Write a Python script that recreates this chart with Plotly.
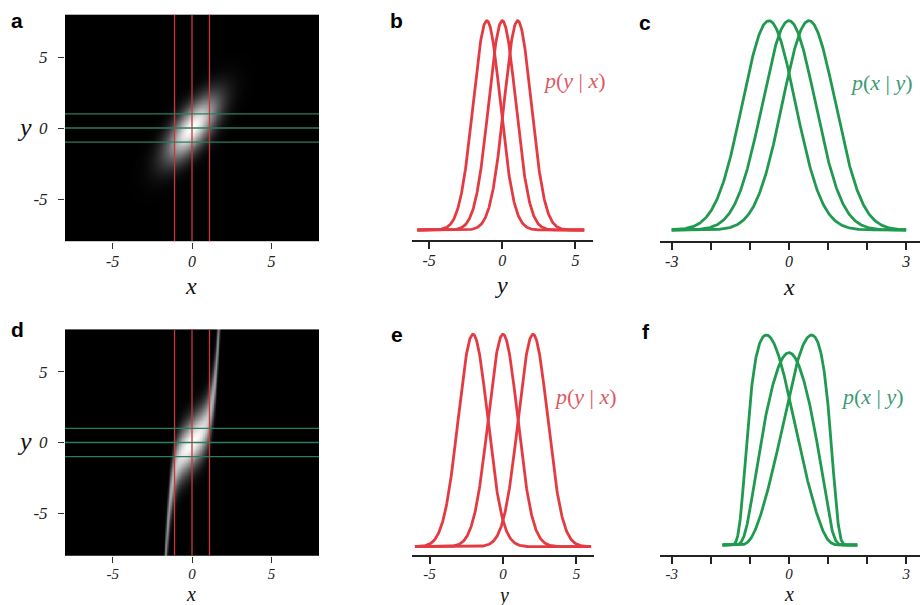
import numpy as np
import plotly.graph_objects as go

W, H = 920, 605

# ------------------------------------------------------------------
# Values
# ------------------------------------------------------------------
GRID_LIM = 8.0                      # image panels span -8..8 on both axes

# panel a : correlated Gaussian p(x, y)
A_SIGMA_X = 0.95
A_SIGMA_Y = 1.30
A_RHO = 0.70
A_COND_X = [-1.1, 0.0, 1.1]         # red lines   -> p(y | x)  (panel b)
A_COND_Y = [-1.0, 0.0, 1.0]         # green lines -> p(x | y)  (panel c)

# panel d : non-linear model  y = k1*x + k5*x^5 + noise
D_SIGMA_X = 1.2
D_K1 = 1.2
D_K5 = 0.45
D_NOISE = 1.0
D_COND_X = [-1.1, 0.0, 1.1]         # red lines   -> p(y | x)  (panel e)
D_COND_Y = [-1.0, 0.0, 1.0]         # green lines -> p(x | y)  (panel f)

# extent over which each family of curves is drawn
B_SPAN = [-5.8, 5.6]
C_SPAN = [-3.0, 3.0]
E_SPAN = [-6.0, 6.0]
F_SPAN = [-1.7, 1.75]

# tick labels
HEAT_TICKS = [-5, 0, 5]
HEAT_TICKTEXT = ["-5", "0", "5"]
BE_TICKS = [-5, 0, 5]
BE_TICKTEXT = ["-5", "0", "5"]
CF_TICKS = [-3, -2, -1, 0, 1, 2, 3]
CF_TICKTEXT = ["-3", "", "", "0", "", "", "3"]

PANEL_LETTERS = ["a", "b", "c", "d", "e", "f"]
LABEL_YX = "<i>p</i>(<i>y</i>&nbsp;|&nbsp;<i>x</i>)"
LABEL_XY = "<i>p</i>(<i>x</i>&nbsp;|&nbsp;<i>y</i>)"

# ------------------------------------------------------------------
# Styles
# ------------------------------------------------------------------
RED = "#e43b42"
RED_TXT = "#dc5a64"
GREEN = "#1f9a4f"
GREEN_TXT = "#3d9a72"
RED_LINE = "#c8383c"
GREEN_LINE = "#2d7d58"
AXIS_C = "#222222"
SERIF = "Liberation Serif"
SANS = "Liberation Sans"
DISPLAY_GAMMA = 0.7


def gauss(v, m, s):
    return np.exp(-0.5 * ((v - m) / s) ** 2)


# ------------------------------------------------------------------
# Densities
# ------------------------------------------------------------------
gx = np.linspace(-GRID_LIM, GRID_LIM, 401)
gy = np.linspace(-GRID_LIM, GRID_LIM, 401)
X, Y = np.meshgrid(gx, gy)

# panel a
zx = X / A_SIGMA_X
zy = Y / A_SIGMA_Y
dens_a = np.exp(-(zx ** 2 - 2 * A_RHO * zx * zy + zy ** 2) / (2 * (1 - A_RHO ** 2)))
dens_a = (dens_a / dens_a.max()) ** DISPLAY_GAMMA


def d_mean(x):
    return D_K1 * x + D_K5 * x ** 5


# panel d
dens_d = gauss(X, 0, D_SIGMA_X) * gauss(Y, d_mean(X), D_NOISE)
dens_d = (dens_d / dens_d.max()) ** DISPLAY_GAMMA

# panel b : p(y|x) of the Gaussian
b_slope = A_RHO * A_SIGMA_Y / A_SIGMA_X
b_sd = A_SIGMA_Y * np.sqrt(1 - A_RHO ** 2)
b_y = np.linspace(B_SPAN[0], B_SPAN[1], 400)
b_curves = [gauss(b_y, b_slope * xc, b_sd) for xc in A_COND_X]

# panel c : p(x|y) of the Gaussian
c_slope = A_RHO * A_SIGMA_X / A_SIGMA_Y
c_sd = A_SIGMA_X * np.sqrt(1 - A_RHO ** 2)
c_x = np.linspace(C_SPAN[0], C_SPAN[1], 400)
c_curves = [gauss(c_x, c_slope * yc, c_sd) for yc in A_COND_Y]

# panel e : p(y|x) of the non-linear model
e_y = np.linspace(E_SPAN[0], E_SPAN[1], 400)
e_curves = [gauss(e_y, d_mean(xc), D_NOISE) for xc in D_COND_X]

# panel f : p(x|y) of the non-linear model (normalised densities)
f_x = np.linspace(F_SPAN[0], F_SPAN[1], 500)
f_raw = []
for yc in D_COND_Y:
    p = gauss(f_x, 0, D_SIGMA_X) * gauss(yc, d_mean(f_x), D_NOISE)
    p = p / np.trapezoid(p, f_x)
    f_raw.append(p)
f_top = max(p.max() for p in f_raw)
f_curves = [p / f_top for p in f_raw]

# ------------------------------------------------------------------
# Figure
# ------------------------------------------------------------------
fig = go.Figure()

heat_scale = [[0, "#000000"], [1, "#ffffff"]]
for dens, ax in ((dens_a, ""), (dens_d, "4")):
    fig.add_trace(go.Heatmap(x=gx, y=gy, z=dens, colorscale=heat_scale, zmin=0, zmax=1,
                             showscale=False, zsmooth="best", hoverinfo="skip",
                             xaxis="x" + ax, yaxis="y" + ax))
    for xc in (A_COND_X if ax == "" else D_COND_X):
        fig.add_trace(go.Scatter(x=[xc, xc], y=[-GRID_LIM, GRID_LIM], mode="lines",
                                 line=dict(color=RED_LINE, width=1.3), showlegend=False,
                                 hoverinfo="skip", xaxis="x" + ax, yaxis="y" + ax))
    for yc in (A_COND_Y if ax == "" else D_COND_Y):
        fig.add_trace(go.Scatter(x=[-GRID_LIM, GRID_LIM], y=[yc, yc], mode="lines",
                                 line=dict(color=GREEN_LINE, width=1.3), showlegend=False,
                                 hoverinfo="skip", xaxis="x" + ax, yaxis="y" + ax))

for xs, curves, col, ax in ((b_y, b_curves, RED, "2"), (c_x, c_curves, GREEN, "3"),
                            (e_y, e_curves, RED, "5"), (f_x, f_curves, GREEN, "6")):
    for cv in curves:
        fig.add_trace(go.Scatter(x=xs, y=cv, mode="lines", line=dict(color=col, width=2.8),
                                 showlegend=False, hoverinfo="skip",
                                 xaxis="x" + ax, yaxis="y" + ax))


def xd(l, r):
    return [l / W, r / W]


def yd(top, bottom):
    return [1 - bottom / H, 1 - top / H]


tickfont_y = dict(family=SERIF, size=17, color="#222222", style="italic")
tickfont_top = dict(family=SERIF, size=16, color="#222222", style="italic")
tickfont_low = dict(family=SERIF, size=15, color="#222222", style="italic")


def heat_axes(xdom, ydom, suffix, tf, sx):
    xa = dict(domain=xdom, range=[-GRID_LIM, GRID_LIM], tickvals=HEAT_TICKS, ticktext=HEAT_TICKTEXT,
              ticks="outside", ticklen=6, tickwidth=1.4, tickcolor="#333333", tickfont=tf,
              ticklabelstandoff=sx, showgrid=False, zeroline=False, showline=False,
              anchor="y" + suffix, fixedrange=True)
    ya = dict(domain=ydom, range=[-GRID_LIM, GRID_LIM], tickvals=HEAT_TICKS, ticktext=HEAT_TICKTEXT,
              ticks="outside", ticklen=6, tickwidth=1.4, tickcolor="#333333", tickfont=tickfont_y,
              ticklabelstandoff=7, showgrid=False, zeroline=False, showline=False,
              anchor="x" + suffix, fixedrange=True)
    return xa, ya


def curve_axes(xdom, xr, ydom, yr, tv, tt, suffix, tf, sx):
    xa = dict(domain=xdom, range=xr, tickvals=tv, ticktext=tt, ticks="outside", ticklen=7,
              tickwidth=1.6, tickcolor=AXIS_C, tickfont=tf, ticklabelstandoff=sx,
              showline=True, linecolor=AXIS_C, linewidth=2, showgrid=False, zeroline=False,
              anchor="y" + suffix, fixedrange=True)
    ya = dict(domain=ydom, range=yr, visible=False, showgrid=False, zeroline=False,
              anchor="x" + suffix, fixedrange=True)
    return xa, ya


lay = {}
lay["xaxis"], lay["yaxis"] = heat_axes(xd(65, 319), yd(14.4, 241.6), "", tickfont_top, -1)
lay["xaxis4"], lay["yaxis4"] = heat_axes(xd(65, 319), yd(329.2, 555.8), "4", tickfont_low, -2)
lay["xaxis2"], lay["yaxis2"] = curve_axes(xd(411.5, 593), [-6.2, 6.2], yd(15, 240),
                                          [-0.0478, 1.0272], BE_TICKS, BE_TICKTEXT, "2",
                                          tickfont_top, -2)
lay["xaxis3"], lay["yaxis3"] = curve_axes(xd(660, 920), [-3.3, 3.355], yd(15, 240.7),
                                          [-0.0511, 1.0272], CF_TICKS, CF_TICKTEXT, "3",
                                          tickfont_top, -2)
lay["xaxis5"], lay["yaxis5"] = curve_axes(xd(412, 594), [-6.2, 6.2], yd(330, 555),
                                          [-0.039, 1.0202], BE_TICKS, BE_TICKTEXT, "5",
                                          tickfont_low, -3)
lay["xaxis6"], lay["yaxis6"] = curve_axes(xd(660, 920), [-3.3, 3.355], yd(330, 555),
                                          [-0.0476, 1.0238], CF_TICKS, CF_TICKTEXT, "6",
                                          tickfont_low, -3)

ann = []


def add_text(txt, px, py, size, color="#111111", family=SERIF, style="italic", weight="normal",
             xanchor="center", yanchor="middle"):
    ann.append(dict(text=txt, x=px / W, y=1 - py / H, xref="paper", yref="paper",
                    xanchor=xanchor, yanchor=yanchor, showarrow=False,
                    font=dict(family=family, size=size, color=color, style=style, weight=weight)))


# panel letters
for letter, (px, py) in zip(PANEL_LETTERS, [(17, 21), (396, 20), (645, 22),
                                            (17, 329), (397, 334), (646, 331)]):
    add_text(letter, px, py, 21, color="#000000", family=SANS, style="normal", weight="bold")

# axis titles
add_text("y", 24, 127, 26)
add_text("y", 24, 441, 26)
add_text("x", 191, 286, 24)
add_text("y", 502, 285, 24)
add_text("x", 789, 287, 24)
# bottom-row titles sit on the lower edge of the page (as in the reference)
add_text("x", 191, 607, 20, yanchor="bottom")
add_text("y", 503, 609, 20, yanchor="bottom")
add_text("x", 789, 607, 20, yanchor="bottom")

# curve labels
add_text(LABEL_YX, 541, 81, 22, color=RED_TXT, style="normal", xanchor="left")
add_text(LABEL_XY, 848, 82, 22, color=GREEN_TXT, style="normal", xanchor="left")
add_text(LABEL_YX, 552, 397, 22, color=RED_TXT, style="normal", xanchor="left")
add_text(LABEL_XY, 839, 396, 22, color=GREEN_TXT, style="normal", xanchor="left")

fig.update_layout(width=W, height=H, margin=dict(l=0, r=0, t=0, b=0),
                  paper_bgcolor="white", plot_bgcolor="white", showlegend=False,
                  annotations=ann, **lay)

fig.write_html("out.html", config={"displayModeBar": False},
               post_script="document.body.style.margin='0';document.body.style.overflow='hidden';")
